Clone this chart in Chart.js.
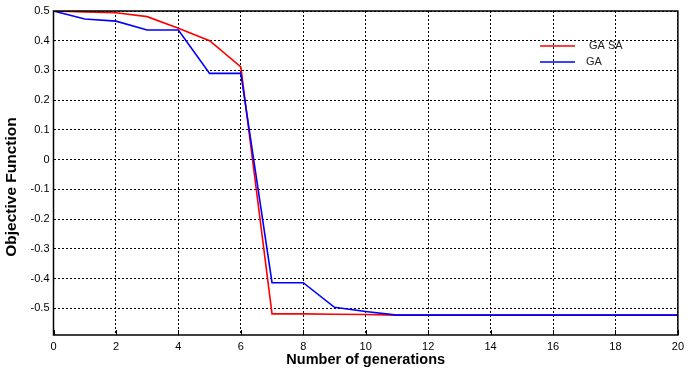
<!DOCTYPE html>
<html>
<head>
<meta charset="utf-8">
<script src="https://cdn.jsdelivr.net/npm/chart.js@4.4.1/dist/chart.umd.min.js"></script>
<style>
  html, body { margin: 0; padding: 0; background: #fff; }
  #wrap { width: 689px; height: 369px; position: relative; }
</style>
</head>
<body>
<div id="wrap"><canvas id="c"></canvas></div>
<script>
// generations 0..20
const generations = [0,1,2,3,4,5,6,7,8,9,10,11,12,13,14,15,16,17,18,19,20];
const gaSa = [0.5,0.497,0.494,0.481,0.442,0.40,0.312,-0.519,-0.519,-0.52,-0.521,-0.523,-0.523,-0.523,-0.523,-0.523,-0.523,-0.523,-0.523,-0.523,-0.523];
const ga   = [0.5,0.473,0.466,0.436,0.436,0.29,0.29,-0.414,-0.414,-0.497,-0.511,-0.523,-0.523,-0.523,-0.523,-0.523,-0.523,-0.523,-0.523,-0.523,-0.523];
const legendLabels = ['GA SA', 'GA'];
const colors = ['#ff0000', '#0000ff'];
const yTitle = 'Objective Function';

const FONT = '"Liberation Sans", Arial, sans-serif';

const pts = arr => arr.map((y, i) => ({ x: generations[i], y }));

// frame around the plot, small inward ticks, y title and line legend
const frameAndLegend = {
  id: 'frameAndLegend',
  afterDraw(chart) {
    const { ctx, chartArea: a, scales } = chart;
    ctx.save();
    ctx.strokeStyle = '#000';
    ctx.lineWidth = 1.5;
    ctx.setLineDash([]);
    ctx.strokeRect(a.left, a.top, a.right - a.left, a.bottom - a.top);

    // inward tick marks along the bottom axis
    ctx.lineWidth = 1;
    scales.x.ticks.forEach(t => {
      const x = Math.round(scales.x.getPixelForValue(t.value)) + 0.5;
      ctx.beginPath();
      ctx.moveTo(x, a.bottom);
      ctx.lineTo(x, a.bottom - 5);
      ctx.stroke();
    });

    // rotated y title, sits a bit below the plot centre
    ctx.save();
    ctx.translate(12, 187);
    ctx.rotate(-Math.PI / 2);
    ctx.font = 'bold 15.5px ' + FONT;
    ctx.fillStyle = '#000';
    ctx.textAlign = 'center';
    ctx.textBaseline = 'middle';
    ctx.fillText(yTitle, 0, 0);
    ctx.restore();

    ctx.font = '11px ' + FONT;
    ctx.textBaseline = 'middle';
    const rows = [46, 62];
    legendLabels.forEach((lab, i) => {
      ctx.strokeStyle = colors[i];
      ctx.lineWidth = 1.5;
      ctx.beginPath();
      ctx.moveTo(540, rows[i]);
      ctx.lineTo(575, rows[i]);
      ctx.stroke();
      ctx.fillStyle = '#222';
      ctx.fillText(lab, i === 0 ? 589 : 586, rows[i]);
    });
    ctx.restore();
  }
};

new Chart(document.getElementById('c'), {
  type: 'line',
  data: {
    datasets: [
      { label: legendLabels[0], data: pts(gaSa), borderColor: colors[0], borderWidth: 1.6, pointRadius: 0, tension: 0, order: 2 },
      { label: legendLabels[1], data: pts(ga),   borderColor: colors[1], borderWidth: 1.6, pointRadius: 0, tension: 0, order: 1 },
    ]
  },
  options: {
    responsive: true,
    maintainAspectRatio: false,
    animation: false,
    layout: { padding: { left: 0, right: 10, top: 11, bottom: 0 } },
    plugins: { legend: { display: false }, tooltip: { enabled: false } },
    scales: {
      x: {
        type: 'linear', min: 0, max: 20,
        ticks: { stepSize: 2, color: '#000', font: { family: FONT, size: 11 }, padding: 5, maxRotation: 0 },
        grid: { color: '#000', lineWidth: 1, drawTicks: false },
        border: { display: false, dash: [2, 2] },
        title: { display: true, text: 'Number of generations', color: '#000', font: { family: FONT, size: 14.5, weight: 'bold' }, padding: { top: 0, bottom: 0 } },
        afterFit: s => { s.height = 34; }
      },
      y: {
        min: -0.59, max: 0.5,
        ticks: {
          stepSize: 0.1, includeBounds: false, color: '#000', font: { family: FONT, size: 11 }, padding: 4,
          callback: v => String(Math.round(v * 10) / 10)
        },
        grid: { color: '#000', lineWidth: 1, drawTicks: false },
        border: { display: false, dash: [2, 2] },
        afterFit: s => { s.width = 53.5; }
      }
    }
  },
  plugins: [frameAndLegend]
});
</script>
</body>
</html>
